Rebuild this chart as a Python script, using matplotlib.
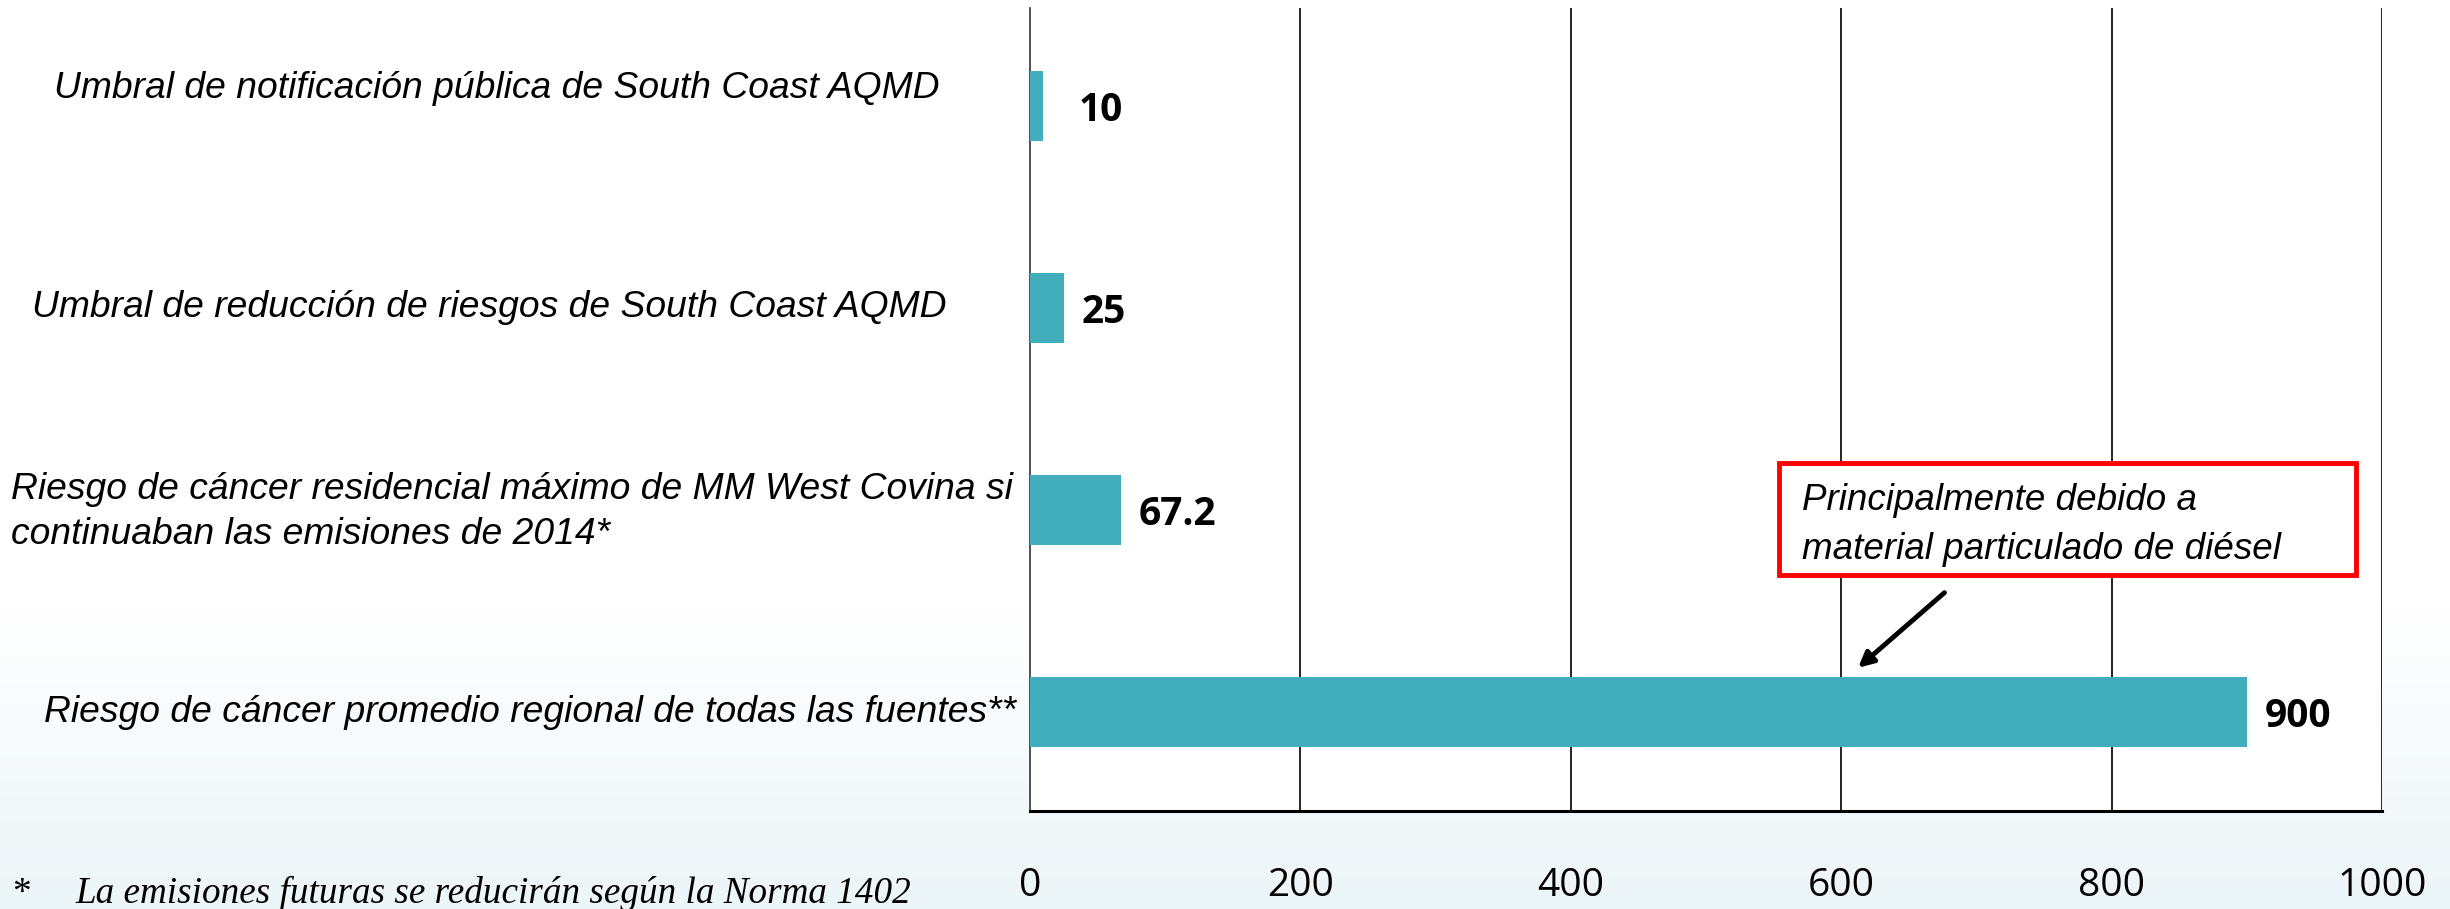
import numpy as np
import matplotlib.pyplot as plt
import matplotlib.transforms as mtransforms
from matplotlib.patches import Rectangle
from matplotlib.colors import LinearSegmentedColormap

# datos
categorias = [
    'Umbral de notificación pública de South Coast AQMD',
    'Umbral de reducción de riesgos de South Coast AQMD',
    'Riesgo de cáncer residencial máximo de MM West Covina si\ncontinuaban las emisiones de 2014*',
    'Riesgo de cáncer promedio regional de todas las fuentes**',
]
valores = [10, 25, 67.2, 900]
etiquetas = ['10', '25', '67.2', '900']
ticks_x = [0, 200, 400, 600, 800, 1000]

# posición horizontal (fracción de figura) y ajuste vertical de cada etiqueta
centro_etiqueta = [0.2029, 0.1996, 0.2089, 0.2162]
ajuste_y = [-0.085, 0, 0.01, 0]

color_barra = '#42aebd'

fig = plt.figure(figsize=(24.5, 9.09), dpi=100)

# fondo con degradado suave (blanco arriba, celeste muy claro abajo)
bg = fig.add_axes([0, 0, 1, 1], zorder=-10)
grad = np.linspace(0, 1, 256).reshape(-1, 1)
cmap_bg = LinearSegmentedColormap.from_list(
    'bg', [(0, '#ecf5f8'), (0.33, '#ffffff'), (1, '#ffffff')])
bg.imshow(grad, aspect='auto', cmap=cmap_bg, origin='lower', extent=[0, 1, 0, 1])
bg.axis('off')

ax = fig.add_axes([0.4204, 0.1078, 0.5518, 0.8834])
ax.set_facecolor('white')

y = np.arange(len(valores))
ax.barh(y, valores, height=0.35, color=color_barra, zorder=3)

ax.set_xlim(0, 1000)
ax.set_ylim(3.49, -0.485)
ax.set_xticks(ticks_x)
ax.set_xticklabels([str(t) for t in ticks_x], fontsize=28, family='Open Sans')
ax.tick_params(axis='x', length=0, pad=40)
ax.set_yticks([])

# rejilla vertical
for t in ticks_x[1:]:
    ax.axvline(t, color='black', linewidth=1.2, zorder=1)
for s in ['top', 'right']:
    ax.spines[s].set_visible(False)
ax.spines['left'].set_color('#333333')
ax.spines['left'].set_linewidth(1.2)
ax.spines['bottom'].set_linewidth(2.2)

# etiquetas de valor
for yi, v, lab in zip(y, valores, etiquetas):
    dx = 25 if v < 15 else 13
    ax.annotate(lab, (v, yi), xytext=(dx, -3), textcoords='offset points',
                va='center', ha='left', fontsize=28, fontweight='bold',
                family='Open Sans')

# etiquetas de categoría a la izquierda
trans = mtransforms.blended_transform_factory(fig.transFigure, ax.transData)
for yi, cat, cx, dy in zip(y, categorias, centro_etiqueta, ajuste_y):
    fig.text(cx, yi + dy, cat, transform=trans, ha='center', va='center',
             multialignment='left', fontsize=26.8, style='italic',
             family='Liberation Sans', linespacing=1.35)

# recuadro de nota
ax.add_patch(Rectangle((554, 1.767), 427, 0.555, color='white', zorder=4))
ax.add_patch(Rectangle((554, 1.767), 427, 0.555, fill=False, edgecolor='#ff0000',
                       linewidth=3.5, zorder=5))
ax.text(571, 2.075, 'Principalmente debido a\nmaterial particulado de diésel',
        ha='left', va='center', fontsize=26.5, style='italic',
        family='Liberation Sans', linespacing=1.5, zorder=6)
ax.annotate('', xy=(611, 2.79), xytext=(678, 2.40),
            arrowprops=dict(arrowstyle='-|>,head_length=0.9,head_width=0.45',
                            color='black', lw=3.5), zorder=6)

# nota al pie
fig.text(0.005, 0.0066, '*', fontsize=27, family='Liberation Serif', va='baseline')
fig.text(0.0306, 0.0066, 'La emisiones futuras se reducirán según la Norma 1402',
         fontsize=26.7, style='italic', family='Liberation Serif', va='baseline')

fig.savefig('out.png', dpi=100)
